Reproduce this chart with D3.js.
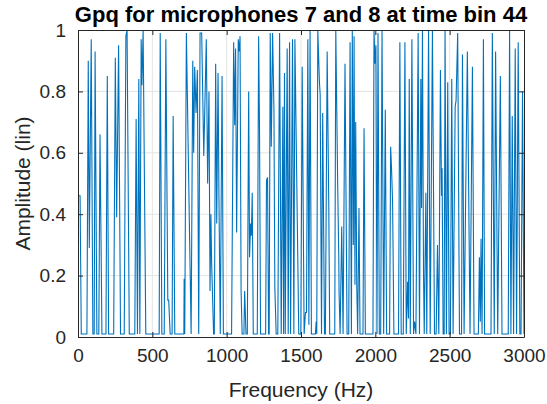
<!DOCTYPE html>
<html lang="en">
<head>
	<meta charset="utf-8">
	<title>Gpq</title>
	<script src="https://d3js.org/d3.v7.min.js"></script>
	<style type="text/css">
		body { margin: 0; background: #fff; }
		svg { display: block; }
		text { font-family: "Liberation Sans", Arial, sans-serif; fill: #262626; }
	</style>
</head>
<body>
	<svg id="chart" width="547" height="404"></svg>

	<script type="text/javascript">

	// values: turning points of the trace
	var freqHz = [
		0, 14, 22, 60, 69, 76, 89, 100, 109, 115, 127, 140, 148, 161, 188, 197, 206, 240, 251, 260, 273, 286, 311, 322, 330, 345,
		382, 391, 400, 409, 416, 425, 430, 438, 456, 546, 553, 564, 580, 591, 604, 610, 620, 633, 640, 651, 712, 714, 718,
		729, 761, 772, 778, 785, 794, 803, 812, 821, 832, 846, 863, 872, 881, 888, 894, 899, 912, 917, 926, 933, 942, 948, 957, 969, 978,
		1033, 1047, 1054, 1060, 1067, 1078, 1085, 1090, 1097, 1104, 1116, 1121, 1130,
		1139, 1148, 1154, 1161, 1166, 1172, 1179, 1206, 1215, 1221, 1228, 1262, 1268, 1275, 1282, 1286, 1293, 1300, 1309, 1318, 1324, 1333,
		1344, 1356, 1367, 1378, 1383, 1389, 1394, 1407, 1414, 1423, 1430, 1443, 1452, 1459,
		1485, 1499, 1508, 1521, 1530, 1537, 1546, 1553, 1561, 1570, 1597, 1602, 1606, 1613, 1624, 1629, 1638, 1646, 1658, 1664, 1676, 1687, 1693,
		1727, 1734, 1747, 1754, 1756, 1763, 1774, 1783, 1796, 1810, 1821, 1830,
		1839, 1845, 1852, 1857, 1863, 1868, 1875, 1881, 1890, 1897, 1917, 1924, 1933, 1984, 1991, 1998, 2004, 2011, 2018, 2027, 2036, 2045, 2056,
		2067, 2076, 2096, 2103, 2109, 2116, 2125, 2156, 2165, 2174, 2188, 2199, 2208,
		2217, 2223, 2228, 2235, 2246, 2257, 2264, 2273, 2288, 2297, 2306, 2311, 2317, 2324, 2329, 2340, 2346, 2358, 2369, 2384, 2398, 2409, 2418, 2427,
		2438, 2445, 2449, 2456, 2463, 2469, 2478, 2487, 2496, 2505, 2514, 2523, 2537, 2543, 2554, 2566,
		2580, 2586, 2597, 2619, 2637, 2653, 2664, 2693, 2700, 2706, 2711, 2718, 2727, 2735, 2778, 2787, 2800, 2809, 2823, 2841, 2852,
		2894, 2903, 2912, 2921, 2930, 2941, 2950, 2961, 2972, 2980, 2990, 3000
	]

	var amplitude = [
		0.46, 0.46, 0.01, 0.01, 0.90, 0.29, 0.97, 0.01, 0.01, 0.93, 0.01, 0.01, 0.66, 0.01, 0.01, 0.85, 0.01, 0.01, 0.91, 0.39, 0.95, 0.01, 0.01, 0.98, 1.00, 0.01,
		0.01, 0.71, 0.01, 0.84, 0.01, 0.97, 0.82, 1.00, 0.01, 0.01, 0.99, 0.01, 0.01, 0.97, 0.12, 0.12, 0.01, 0.01, 0.72, 0.01, 0.01, 0.19, 0.01,
		0.99, 0.01, 0.90, 0.60, 0.88, 0.73, 0.87, 0.01, 0.99, 0.99, 0.59, 0.97, 0.50, 0.80, 0.15, 0.40, 0.24, 0.01, 0.01, 0.89, 0.37, 0.86, 0.46, 0.01, 0.85, 0.01,
		0.01, 0.96, 0.69, 0.94, 0.34, 0.97, 0.93, 0.98, 0.15, 0.01, 0.01, 0.15, 0.01,
		0.01, 0.80, 0.26, 0.37, 0.33, 0.47, 0.01, 0.01, 0.98, 0.67, 0.01, 0.01, 0.51, 0.52, 0.01, 0.01, 0.99, 0.62, 0.99, 0.74, 0.16, 0.01,
		0.01, 0.99, 0.01, 0.75, 0.01, 0.86, 0.01, 0.94, 0.01, 0.96, 0.01, 0.97, 0.01, 0.97,
		0.01, 0.01, 0.88, 0.01, 0.08, 0.08, 0.97, 0.04, 1.00, 0.01, 0.01, 0.05, 0.01, 1.00, 0.83, 0.79, 0.01, 0.73, 0.01, 0.01, 0.93, 0.42, 0.01,
		0.01, 1.00, 0.49, 0.26, 0.15, 0.01, 0.36, 0.01, 0.89, 0.01, 0.01, 0.96,
		0.01, 1.00, 0.30, 0.98, 0.17, 0.70, 0.17, 0.01, 0.42, 0.01, 0.01, 0.68, 0.01, 0.01, 1.00, 0.89, 0.95, 0.01, 0.99, 0.01, 0.01, 1.00, 0.01,
		0.74, 0.01, 0.01, 0.62, 0.55, 0.44, 0.01, 0.01, 0.96, 0.01, 0.01, 0.96, 0.01,
		0.18, 0.06, 0.84, 0.01, 0.97, 0.01, 0.05, 0.01, 0.99, 0.01, 0.84, 0.42, 1.00, 0.21, 0.01, 0.47, 0.01, 1.00, 0.01, 1.00, 0.01, 0.01, 0.30, 0.01,
		0.87, 0.46, 0.55, 0.01, 0.01, 1.00, 0.01, 0.83, 0.01, 0.01, 0.84, 0.01, 0.75, 0.77, 0.99, 0.01,
		0.01, 0.92, 0.01, 0.93, 0.01, 0.88, 0.01, 0.01, 0.26, 0.05, 0.32, 0.01, 0.97, 0.01, 0.01, 0.99, 0.01, 0.93, 0.01, 0.85, 0.01,
		0.01, 1.00, 0.01, 0.72, 0.01, 0.94, 0.01, 0.96, 0.01, 0.01, 0.80, 0.01
	]

	var xTicks = [0, 500, 1000, 1500, 2000, 2500, 3000]
	var yTicks = [0, 0.2, 0.4, 0.6, 0.8, 1]

	var titleText = "Gpq for microphones 7 and 8 at time bin 44"
	var xLabel = "Frequency (Hz)"
	var yLabel = "Amplitude (lin)"

	// layout
	var W = 547, H = 404
	var margin = {top: 30, right: 23, bottom: 67, left: 78}
	var width = W - margin.left - margin.right
	var height = H - margin.top - margin.bottom
	var axisColor = "#262626"
	var lineColor = "#0072bd"
	var tickLen = 5

	var data = freqHz.map((f, i) => ({f: f, a: amplitude[i]}))

	var x = d3.scaleLinear().domain([0, 3000]).range([0, width])
	var y = d3.scaleLinear().domain([0, 1]).range([height, 0])

	var svg = d3.select("#chart")
	var g = svg.append("g")
				.attr("transform", "translate(" + margin.left + "," + margin.top + ")")

	// grid
	g.append("g").selectAll("line")
		.data(xTicks.slice(1, -1))
		.enter().append("line")
		.attr("x1", d => x(d)).attr("x2", d => x(d))
		.attr("y1", 0).attr("y2", height)
		.attr("stroke", "#e4e4e4").attr("stroke-width", 1)

	g.append("g").selectAll("line")
		.data(yTicks.slice(1, -1))
		.enter().append("line")
		.attr("x1", 0).attr("x2", width)
		.attr("y1", d => y(d)).attr("y2", d => y(d))
		.attr("stroke", "#e4e4e4").attr("stroke-width", 1)

	// trace
	var line = d3.line().x(d => x(d.f)).y(d => y(d.a))

	g.append("path")
		.datum(data)
		.attr("d", line)
		.attr("fill", "none")
		.attr("stroke", lineColor)
		.attr("stroke-width", 1.1)
		.attr("stroke-linejoin", "miter")

	// axes (ticks inside, box on)
	var xAxisB = d3.axisBottom(x).tickValues(xTicks).tickSizeInner(-tickLen).tickSizeOuter(0).tickPadding(12)
		.tickFormat(d3.format("d"))
	var xAxisT = d3.axisTop(x).tickValues(xTicks).tickSizeInner(-tickLen).tickSizeOuter(0).tickFormat("")
	var yAxisL = d3.axisLeft(y).tickValues(yTicks).tickSizeInner(-tickLen).tickSizeOuter(0).tickPadding(12)
		.tickFormat(d3.format("~g"))
	var yAxisR = d3.axisRight(y).tickValues(yTicks).tickSizeInner(-tickLen).tickSizeOuter(0).tickFormat("")

	function styleAxis(sel) {
		sel.select(".domain").attr("stroke", axisColor).attr("stroke-width", 1)
		sel.selectAll(".tick line").attr("stroke", axisColor)
		sel.selectAll(".tick text").attr("fill", axisColor)
			.style("font-family", "'Liberation Sans', Arial, sans-serif")
			.style("font-size", "19px")
	}

	g.append("g").attr("transform", "translate(0," + height + ")").call(xAxisB).call(styleAxis)
	g.append("g").call(xAxisT).call(styleAxis)
	g.append("g").call(yAxisL).call(styleAxis)
	g.append("g").attr("transform", "translate(" + width + ",0)").call(yAxisR).call(styleAxis)

	// labels
	svg.append("text")
		.attr("x", margin.left + width / 2)
		.attr("y", 22)
		.attr("text-anchor", "middle")
		.style("font-size", "22px")
		.style("font-weight", "bold")
		.style("fill", "#000")
		.text(titleText)

	svg.append("text")
		.attr("x", margin.left + width / 2)
		.attr("y", 397)
		.attr("text-anchor", "middle")
		.style("font-size", "21px")
		.text(xLabel)

	svg.append("text")
		.attr("transform", "translate(30," + (margin.top + height / 2) + ") rotate(-90)")
		.attr("text-anchor", "middle")
		.style("font-size", "21px")
		.text(yLabel)

	</script>
</body>
</html>
